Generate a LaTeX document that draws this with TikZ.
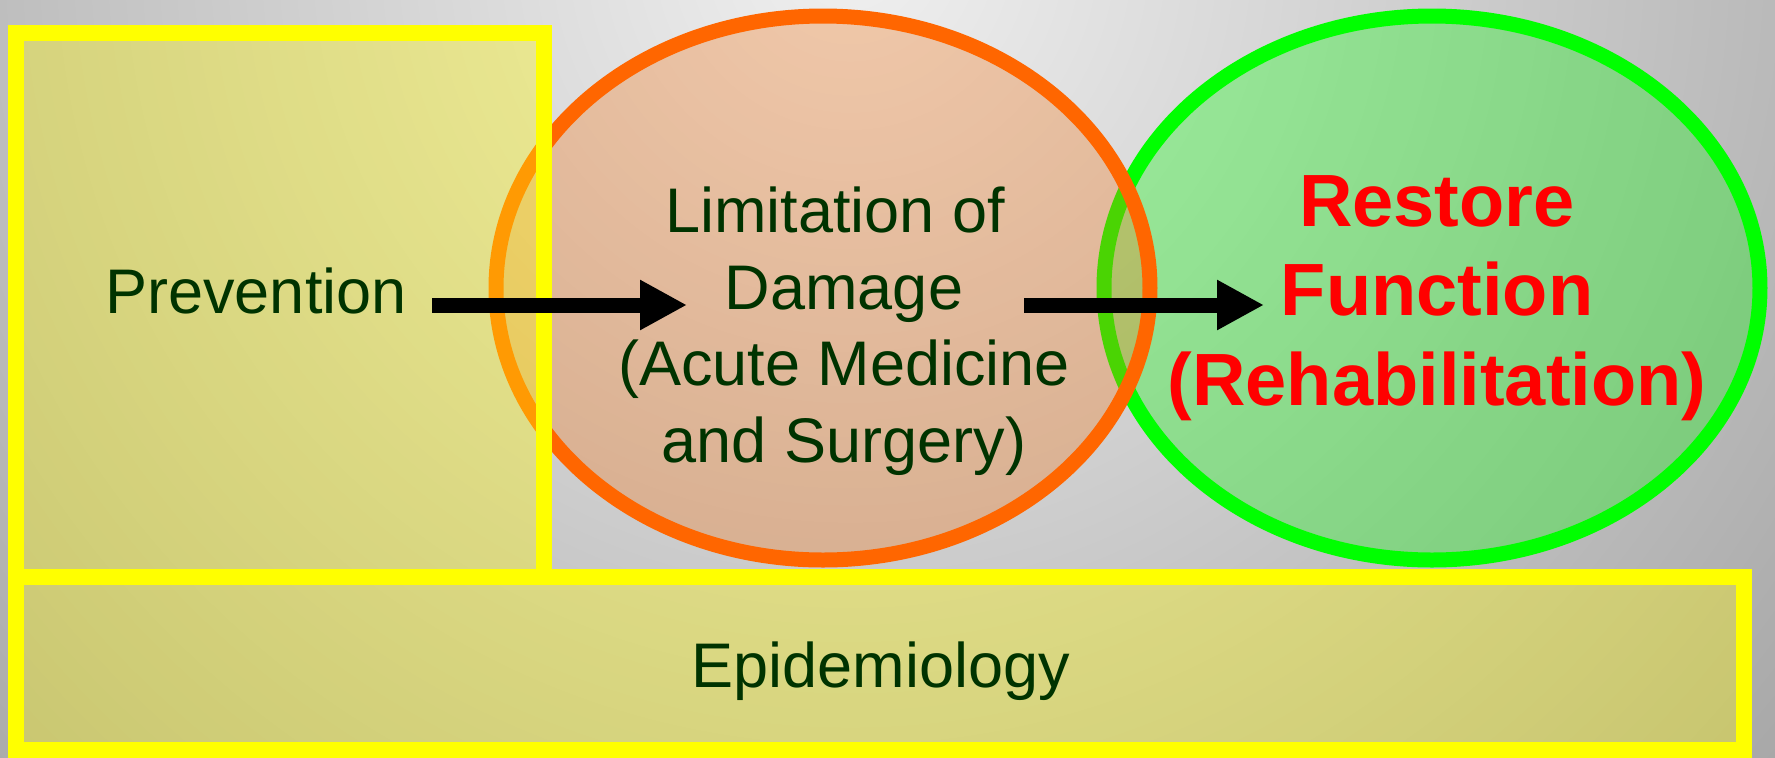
\documentclass[tikz,border=0pt]{standalone}
\usepackage{fontspec}
\setmainfont{Liberation Sans}
\usetikzlibrary{arrows.meta}
\definecolor{bginner}{RGB}{240,240,240}
\definecolor{bgouter}{RGB}{149,149,149}
\definecolor{textgreen}{RGB}{0,51,0}
\definecolor{orangeline}{RGB}{255,102,0}
\definecolor{orangefill}{RGB}{247,113,13}
\definecolor{greenline}{RGB}{0,255,0}
\definecolor{boxline}{RGB}{255,255,0}
\definecolor{boxfill}{RGB}{255,248,10}
\pgfdeclareradialshading{bgshade}{\pgfpoint{0bp}{0bp}}{color(0bp)=(bginner); color(42bp)=(bgouter); color(50bp)=(bgouter)}

\begin{document}
\begin{tikzpicture}[x=0.1mm, y=-0.1mm,
	label/.style={text=textgreen, inner sep=0pt, align=center, font=\fontsize{17.93}{21.77}\selectfont},
	redlabel/.style={text=red, inner sep=0pt, align=center, font=\fontsize{21.06}{25.47}\selectfont\bfseries},
	box/.style={draw=boxline, line width=1.6mm, fill=boxfill, fill opacity=0.36},
	stage/.style={line width=1.5mm},
	bigarrow/.style={line width=1.5mm, -{Triangle[width=4.7mm, length=4.7mm]}}]
	\useasboundingbox (0,0) rectangle (1775,758);
	
	% Background
	\begin{scope}
		\clip (0,0) rectangle (1775,758);
		\shade[shading=bgshade] (-75,-975) rectangle (1775,875);
	\end{scope}
	
	% Stages
	\path[stage, draw=greenline, fill=greenline, fill opacity=0.31] (1432,288) ellipse [x radius=328, y radius=272];
	\path[stage, draw=orangeline, fill=orangefill, fill opacity=0.3] (823,288) ellipse [x radius=327, y radius=272];
	\path[box] (16,33) rectangle (544,577);
	\path[box] (16,577) rectangle (1744,750);
	
	% Labels
	\node[label, anchor=base] (prevention) at (256,313) {Prevention};
	\node[label] (limitation) at (844,331) {Limitation of\hphantom{\ }\\Damage\\(Acute Medicine\\and Surgery)};
	\node[redlabel] (restore) at (1437,298) {Restore\\Function\\(Rehabilitation)};
	\node[label, anchor=base] (epidemiology) at (881,687) {Epidemiology};
	
	% Arrows
	\coordinate (from1) at (432,305);
	\coordinate (to1) at (687,305);
	\coordinate (from2) at (1024,305);
	\coordinate (to2) at (1264,305);
	\draw[bigarrow] (from1) -- (to1);
	\draw[bigarrow] (from2) -- (to2);
	
\end{tikzpicture}
\end{document}
